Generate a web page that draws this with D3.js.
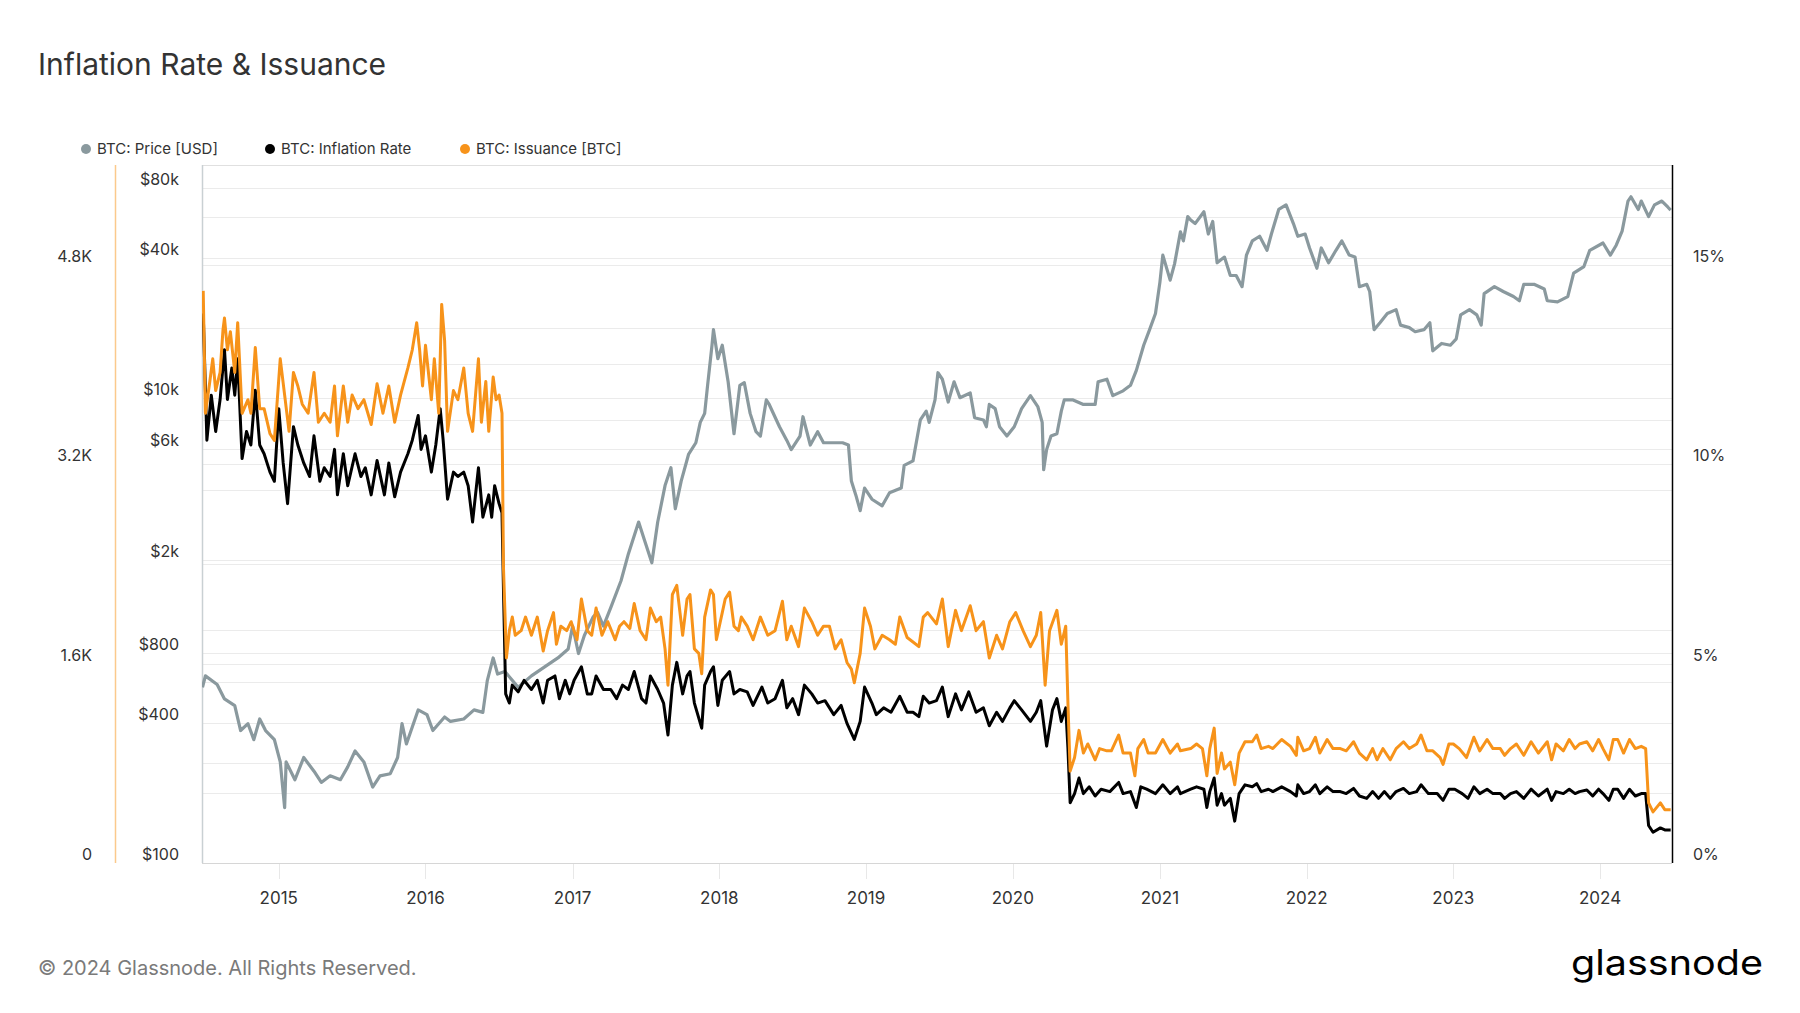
<!DOCTYPE html>
<html>
<head>
<meta charset="utf-8">
<script src="https://cdn.jsdelivr.net/npm/d3@7"></script>
<style>
  html, body { margin: 0; padding: 0; background: #fff; }
  svg { display: block; font-family: Inter, "Noto Sans", sans-serif; }
</style>
</head>
<body>
<div id="chart"></div>
<script>
// values: [decimal year, value]
const priceData = [
  [2014.48, 569], [2014.50, 637], [2014.58, 585], [2014.63, 507], [2014.70, 475], [2014.74, 371],
  [2014.79, 397], [2014.83, 339], [2014.87, 416], [2014.91, 371], [2014.97, 339], [2015.01, 272],
  [2015.04, 173], [2015.05, 272], [2015.11, 228], [2015.17, 284], [2015.24, 248], [2015.29, 222],
  [2015.35, 237], [2015.42, 228], [2015.47, 259], [2015.52, 303], [2015.58, 272], [2015.64, 212],
  [2015.69, 237], [2015.76, 242], [2015.81, 284], [2015.84, 397], [2015.87, 325], [2015.95, 455],
  [2016.01, 434], [2016.05, 371], [2016.13, 424], [2016.17, 406], [2016.26, 416], [2016.33, 455],
  [2016.39, 444], [2016.42, 608], [2016.46, 761], [2016.49, 649], [2016.54, 665], [2016.63, 569],
  [2016.72, 637], [2016.81, 697], [2016.90, 761], [2016.97, 831], [2017.00, 1043], [2017.04, 795],
  [2017.08, 950], [2017.14, 1143], [2017.17, 1194], [2017.21, 1043], [2017.26, 1253], [2017.33, 1634],
  [2017.38, 2130], [2017.45, 2920], [2017.49, 2440], [2017.54, 1950], [2017.58, 2920], [2017.63, 4190],
  [2017.67, 5000], [2017.70, 3330], [2017.74, 4380], [2017.79, 5700], [2017.84, 6400], [2017.87, 7830],
  [2017.90, 8560], [2017.92, 11300], [2017.95, 16800], [2017.96, 19600], [2017.99, 14700], [2018.02, 16800],
  [2018.06, 11700], [2018.10, 7000], [2018.14, 11300], [2018.17, 11600], [2018.21, 8560], [2018.25, 7140],
  [2018.28, 6840], [2018.32, 9780], [2018.34, 9350], [2018.41, 7500], [2018.46, 6550], [2018.49, 5980],
  [2018.55, 6840], [2018.57, 8280], [2018.62, 6260], [2018.67, 7140], [2018.71, 6400], [2018.84, 6400],
  [2018.88, 6260], [2018.90, 4380], [2018.93, 3820], [2018.96, 3270], [2018.99, 4090], [2019.04, 3660],
  [2019.11, 3430], [2019.16, 3900], [2019.24, 4090], [2019.26, 5120], [2019.32, 5350], [2019.37, 8020],
  [2019.41, 8750], [2019.43, 7830], [2019.47, 9780], [2019.49, 12800], [2019.52, 12000], [2019.56, 9580],
  [2019.60, 11700], [2019.64, 10000], [2019.71, 10470], [2019.74, 8200], [2019.80, 8020], [2019.82, 7500],
  [2019.84, 9350], [2019.88, 8970], [2019.91, 7500], [2019.96, 6840], [2020.01, 7500], [2020.06, 8970],
  [2020.12, 10200], [2020.17, 9160], [2020.20, 7830], [2020.21, 4900], [2020.23, 5980], [2020.26, 6840],
  [2020.30, 7000], [2020.33, 8750], [2020.35, 9780], [2020.41, 9780], [2020.48, 9350], [2020.56, 9350],
  [2020.58, 11700], [2020.64, 12000], [2020.68, 10200], [2020.75, 10700], [2020.80, 11300], [2020.84, 13100],
  [2020.89, 16800], [2020.93, 19600], [2020.97, 23000], [2021.00, 31300], [2021.02, 41000], [2021.07, 32000],
  [2021.10, 37600], [2021.14, 51600], [2021.16, 47200], [2021.19, 60000], [2021.21, 58000], [2021.24, 56000],
  [2021.30, 63000], [2021.33, 50500], [2021.36, 57200], [2021.39, 38000], [2021.44, 40200], [2021.48, 33500],
  [2021.52, 33500], [2021.56, 30000], [2021.59, 41000], [2021.63, 47200], [2021.68, 49400], [2021.73, 43000],
  [2021.76, 50500], [2021.81, 64400], [2021.86, 67400], [2021.91, 56000], [2021.94, 49400], [2021.99, 50500],
  [2022.02, 44000], [2022.07, 36000], [2022.10, 44000], [2022.15, 38000], [2022.20, 43000], [2022.24, 47200],
  [2022.29, 41000], [2022.33, 40200], [2022.36, 30000], [2022.41, 30700], [2022.43, 28600], [2022.46, 19600],
  [2022.50, 21000], [2022.55, 23000], [2022.61, 23900], [2022.64, 20500], [2022.70, 20000], [2022.74, 19200],
  [2022.80, 19600], [2022.84, 21000], [2022.86, 15900], [2022.92, 17100], [2022.98, 16800], [2023.02, 17900],
  [2023.05, 22700], [2023.11, 23900], [2023.16, 22700], [2023.19, 20500], [2023.21, 28000], [2023.28, 30000],
  [2023.34, 28600], [2023.41, 27200], [2023.45, 26100], [2023.48, 30700], [2023.55, 30700], [2023.62, 29300],
  [2023.64, 26100], [2023.71, 25800], [2023.78, 27200], [2023.82, 34300], [2023.89, 36600], [2023.93, 43000],
  [2024.02, 46200], [2024.07, 41000], [2024.11, 45200], [2024.15, 52000], [2024.19, 70000], [2024.21, 73000],
  [2024.26, 64400], [2024.28, 70000], [2024.33, 60000], [2024.37, 67400], [2024.42, 70000], [2024.46, 66000],
  [2024.48, 64000]
];

const inflationData = [
  [2014.485, 13.78], [2014.51, 10.6], [2014.54, 11.73], [2014.57, 10.82], [2014.60, 11.62], [2014.63, 12.87],
  [2014.65, 11.62], [2014.68, 12.41], [2014.70, 11.73], [2014.72, 12.64], [2014.75, 10.14], [2014.78, 10.82],
  [2014.81, 10.48], [2014.84, 11.85], [2014.87, 10.48], [2014.90, 10.26], [2014.94, 9.8], [2014.97, 9.57],
  [2015.00, 11.39], [2015.03, 10.03], [2015.06, 9.01], [2015.10, 10.94], [2015.13, 10.48], [2015.17, 10.03],
  [2015.21, 9.69], [2015.24, 10.71], [2015.28, 9.57], [2015.31, 9.91], [2015.35, 9.69], [2015.38, 10.37],
  [2015.40, 9.23], [2015.44, 10.26], [2015.47, 9.46], [2015.52, 10.26], [2015.56, 9.69], [2015.59, 9.91],
  [2015.63, 9.23], [2015.67, 10.09], [2015.72, 9.23], [2015.75, 10.03], [2015.79, 9.18], [2015.83, 9.8],
  [2015.88, 10.26], [2015.91, 10.6], [2015.95, 11.22], [2015.97, 10.37], [2016.00, 10.71], [2016.04, 9.8],
  [2016.07, 10.48], [2016.10, 11.39], [2016.12, 10.6], [2016.15, 9.12], [2016.19, 9.8], [2016.22, 9.69],
  [2016.26, 9.8], [2016.29, 9.46], [2016.32, 8.55], [2016.36, 9.91], [2016.39, 8.67], [2016.43, 9.23],
  [2016.45, 8.67], [2016.47, 9.46], [2016.50, 9.01], [2016.52, 8.78], [2016.53, 6.85], [2016.545, 4.24],
  [2016.57, 4.01], [2016.59, 4.46], [2016.63, 4.29], [2016.67, 4.58], [2016.72, 4.35], [2016.76, 4.58],
  [2016.80, 4.01], [2016.83, 4.58], [2016.88, 4.69], [2016.91, 4.12], [2016.95, 4.58], [2016.98, 4.24],
  [2017.01, 4.58], [2017.06, 4.92], [2017.10, 4.24], [2017.13, 4.24], [2017.16, 4.69], [2017.21, 4.35],
  [2017.26, 4.35], [2017.30, 4.12], [2017.34, 4.46], [2017.38, 4.35], [2017.42, 4.8], [2017.47, 4.12],
  [2017.50, 4.01], [2017.53, 4.69], [2017.58, 4.35], [2017.62, 4.01], [2017.65, 3.21], [2017.68, 4.46],
  [2017.71, 5.03], [2017.75, 4.24], [2017.78, 4.69], [2017.80, 4.8], [2017.83, 4.01], [2017.88, 3.38],
  [2017.90, 4.46], [2017.94, 4.8], [2017.96, 4.92], [2017.99, 3.95], [2018.02, 4.58], [2018.07, 4.8],
  [2018.10, 4.24], [2018.14, 4.35], [2018.19, 4.29], [2018.23, 3.95], [2018.29, 4.41], [2018.33, 4.01],
  [2018.38, 4.12], [2018.43, 4.58], [2018.46, 3.89], [2018.50, 4.12], [2018.54, 3.72], [2018.58, 4.46],
  [2018.63, 4.24], [2018.67, 4.01], [2018.72, 4.07], [2018.78, 3.72], [2018.83, 3.95], [2018.87, 3.5],
  [2018.92, 3.1], [2018.96, 3.55], [2018.99, 4.41], [2019.04, 4.01], [2019.07, 3.72], [2019.12, 3.89],
  [2019.17, 3.78], [2019.23, 4.18], [2019.28, 3.78], [2019.32, 3.78], [2019.36, 3.67], [2019.39, 4.18],
  [2019.43, 4.01], [2019.48, 4.07], [2019.52, 4.41], [2019.56, 3.67], [2019.61, 4.24], [2019.65, 3.84],
  [2019.70, 4.29], [2019.75, 3.78], [2019.80, 3.89], [2019.84, 3.44], [2019.89, 3.78], [2019.93, 3.55],
  [2019.98, 3.89], [2020.01, 4.07], [2020.06, 3.84], [2020.12, 3.55], [2020.16, 3.78], [2020.19, 4.07],
  [2020.23, 2.93], [2020.27, 3.84], [2020.30, 4.12], [2020.33, 3.55], [2020.36, 3.89], [2020.375, 2.87],
  [2020.39, 1.51], [2020.42, 1.74], [2020.45, 2.13], [2020.48, 1.74], [2020.52, 1.91], [2020.56, 1.68],
  [2020.60, 1.85], [2020.66, 1.79], [2020.72, 2.02], [2020.75, 1.74], [2020.80, 1.79], [2020.84, 1.39],
  [2020.87, 1.91], [2020.91, 1.85], [2020.97, 1.74], [2021.02, 1.96], [2021.07, 1.74], [2021.12, 1.91],
  [2021.14, 1.74], [2021.21, 1.85], [2021.25, 1.91], [2021.30, 1.85], [2021.32, 1.39], [2021.34, 1.79],
  [2021.37, 2.13], [2021.39, 1.45], [2021.42, 1.74], [2021.44, 1.45], [2021.48, 1.62], [2021.51, 1.05],
  [2021.54, 1.74], [2021.58, 1.96], [2021.63, 1.91], [2021.66, 1.99], [2021.69, 1.79], [2021.74, 1.85],
  [2021.77, 1.79], [2021.83, 1.91], [2021.89, 1.79], [2021.93, 1.68], [2021.94, 1.96], [2021.98, 1.74],
  [2022.02, 1.79], [2022.06, 1.96], [2022.09, 1.74], [2022.14, 1.91], [2022.18, 1.79], [2022.23, 1.79],
  [2022.27, 1.74], [2022.32, 1.87], [2022.36, 1.68], [2022.41, 1.62], [2022.45, 1.79], [2022.49, 1.62],
  [2022.53, 1.79], [2022.57, 1.62], [2022.61, 1.79], [2022.66, 1.87], [2022.70, 1.74], [2022.75, 1.79],
  [2022.78, 1.96], [2022.83, 1.74], [2022.89, 1.74], [2022.93, 1.57], [2022.97, 1.85], [2023.01, 1.85],
  [2023.06, 1.74], [2023.10, 1.62], [2023.14, 1.91], [2023.18, 1.74], [2023.23, 1.85], [2023.27, 1.74],
  [2023.32, 1.74], [2023.35, 1.62], [2023.39, 1.74], [2023.43, 1.79], [2023.48, 1.62], [2023.53, 1.85],
  [2023.58, 1.68], [2023.64, 1.85], [2023.67, 1.57], [2023.70, 1.79], [2023.75, 1.74], [2023.79, 1.85],
  [2023.83, 1.74], [2023.86, 1.79], [2023.91, 1.83], [2023.95, 1.68], [2023.99, 1.85], [2024.02, 1.74],
  [2024.06, 1.57], [2024.09, 1.85], [2024.12, 1.85], [2024.16, 1.62], [2024.20, 1.85], [2024.24, 1.68],
  [2024.28, 1.74], [2024.31, 1.74], [2024.33, 0.94], [2024.36, 0.77], [2024.41, 0.88], [2024.44, 0.83],
  [2024.48, 0.83]
];

const issuanceData = [
  [2014.485, 4590], [2014.50, 3608], [2014.53, 3863], [2014.55, 4045], [2014.57, 3790], [2014.60, 3936],
  [2014.62, 4281], [2014.63, 4372], [2014.65, 4117], [2014.67, 4263], [2014.70, 3936], [2014.72, 4335],
  [2014.75, 3608], [2014.79, 3717], [2014.81, 3608], [2014.84, 4135], [2014.87, 3645], [2014.90, 3645],
  [2014.94, 3445], [2014.97, 3390], [2015.01, 4045], [2015.04, 3754], [2015.07, 3463], [2015.10, 3936],
  [2015.13, 3827], [2015.16, 3681], [2015.20, 3608], [2015.24, 3936], [2015.27, 3536], [2015.31, 3608],
  [2015.35, 3536], [2015.38, 3827], [2015.40, 3427], [2015.44, 3827], [2015.47, 3536], [2015.50, 3754],
  [2015.54, 3645], [2015.58, 3717], [2015.63, 3518], [2015.67, 3845], [2015.71, 3608], [2015.75, 3827],
  [2015.79, 3536], [2015.83, 3754], [2015.88, 3972], [2015.91, 4117], [2015.94, 4335], [2015.96, 4117],
  [2015.98, 3827], [2016.00, 4154], [2016.04, 3717], [2016.06, 4045], [2016.09, 3608], [2016.11, 4481],
  [2016.13, 4190], [2016.15, 3463], [2016.19, 3790], [2016.22, 3717], [2016.26, 3972], [2016.29, 3608],
  [2016.32, 3463], [2016.36, 4045], [2016.38, 3536], [2016.41, 3863], [2016.43, 3463], [2016.46, 3899],
  [2016.48, 3717], [2016.50, 3754], [2016.52, 3608], [2016.53, 2372], [2016.55, 1645], [2016.57, 1864],
  [2016.59, 1973], [2016.61, 1827], [2016.65, 1864], [2016.68, 1973], [2016.72, 1827], [2016.76, 1973],
  [2016.80, 1700], [2016.83, 1864], [2016.87, 2009], [2016.89, 1755], [2016.92, 1900], [2016.96, 1864],
  [2016.99, 1936], [2017.03, 1791], [2017.06, 2118], [2017.10, 1864], [2017.13, 1827], [2017.16, 2045],
  [2017.20, 1827], [2017.24, 1936], [2017.29, 1791], [2017.32, 1900], [2017.35, 1936], [2017.39, 1882],
  [2017.42, 2082], [2017.46, 1864], [2017.50, 1791], [2017.53, 2045], [2017.57, 1936], [2017.60, 1973],
  [2017.63, 1718], [2017.65, 1427], [2017.68, 2154], [2017.71, 2227], [2017.75, 1827], [2017.78, 2118],
  [2017.80, 2154], [2017.83, 1718], [2017.86, 1682], [2017.88, 1518], [2017.90, 1973], [2017.94, 2191],
  [2017.96, 2154], [2017.98, 1791], [2018.02, 2009], [2018.04, 2118], [2018.07, 2173], [2018.10, 1900],
  [2018.13, 1864], [2018.15, 1973], [2018.19, 1900], [2018.23, 1791], [2018.28, 1973], [2018.33, 1827],
  [2018.38, 1864], [2018.43, 2100], [2018.46, 1791], [2018.49, 1900], [2018.54, 1736], [2018.58, 2045],
  [2018.63, 1936], [2018.67, 1827], [2018.71, 1900], [2018.75, 1900], [2018.79, 1718], [2018.83, 1791],
  [2018.87, 1609], [2018.90, 1555], [2018.92, 1446], [2018.96, 1682], [2018.99, 2045], [2019.03, 1900],
  [2019.06, 1718], [2019.11, 1827], [2019.16, 1791], [2019.20, 1755], [2019.23, 1973], [2019.28, 1809],
  [2019.32, 1773], [2019.36, 1736], [2019.39, 1973], [2019.42, 2009], [2019.48, 1918], [2019.52, 2118],
  [2019.56, 1736], [2019.61, 2027], [2019.65, 1864], [2019.71, 2064], [2019.75, 1864], [2019.80, 1936],
  [2019.84, 1645], [2019.89, 1827], [2019.93, 1718], [2019.98, 1936], [2020.02, 2009], [2020.07, 1864],
  [2020.12, 1736], [2020.16, 1827], [2020.19, 2009], [2020.22, 1427], [2020.25, 1864], [2020.30, 2027],
  [2020.33, 1755], [2020.36, 1900], [2020.375, 1282], [2020.39, 737], [2020.42, 846], [2020.45, 1064],
  [2020.48, 882], [2020.51, 955], [2020.56, 828], [2020.59, 918], [2020.64, 900], [2020.67, 900],
  [2020.72, 1027], [2020.75, 882], [2020.80, 882], [2020.83, 700], [2020.85, 918], [2020.89, 991],
  [2020.92, 882], [2020.97, 882], [2021.02, 991], [2021.07, 882], [2021.12, 955], [2021.14, 900],
  [2021.21, 918], [2021.25, 955], [2021.29, 918], [2021.32, 700], [2021.34, 918], [2021.37, 1082],
  [2021.39, 718], [2021.42, 882], [2021.44, 755], [2021.48, 809], [2021.51, 628], [2021.54, 882],
  [2021.58, 973], [2021.63, 973], [2021.66, 1027], [2021.69, 918], [2021.74, 936], [2021.77, 918],
  [2021.83, 991], [2021.89, 936], [2021.93, 864], [2021.94, 1009], [2021.98, 900], [2022.02, 918],
  [2022.06, 1009], [2022.09, 882], [2022.14, 991], [2022.18, 918], [2022.23, 918], [2022.27, 900],
  [2022.32, 973], [2022.36, 882], [2022.41, 828], [2022.45, 918], [2022.48, 828], [2022.52, 918],
  [2022.57, 828], [2022.61, 918], [2022.66, 973], [2022.70, 918], [2022.75, 955], [2022.78, 1027],
  [2022.82, 900], [2022.86, 900], [2022.91, 846], [2022.93, 791], [2022.97, 955], [2023.00, 955],
  [2023.04, 918], [2023.09, 846], [2023.14, 1009], [2023.18, 900], [2023.23, 991], [2023.27, 918],
  [2023.32, 918], [2023.35, 864], [2023.39, 918], [2023.43, 955], [2023.48, 864], [2023.53, 973],
  [2023.58, 882], [2023.64, 973], [2023.67, 828], [2023.70, 955], [2023.75, 900], [2023.79, 991],
  [2023.83, 918], [2023.86, 955], [2023.91, 973], [2023.95, 900], [2023.99, 991], [2024.02, 918],
  [2024.06, 828], [2024.09, 991], [2024.12, 991], [2024.16, 882], [2024.20, 991], [2024.24, 918],
  [2024.28, 936], [2024.31, 918], [2024.33, 482], [2024.36, 410], [2024.41, 482], [2024.44, 428],
  [2024.48, 428]
];

const priceTicks = [100, 400, 800, 2000, 6000, 10000, 40000, 80000];
const priceTickLabels = ["$100", "$400", "$800", "$2k", "$6k", "$10k", "$40k", "$80k"];
const priceGrid = [200, 400, 600, 800, 1000, 2000, 4000, 6000, 8000, 10000, 20000, 40000, 60000, 80000];
const inflationTicks = [0, 5, 10, 15];
const inflationGrid = [2.5, 5, 7.5, 10, 12.5, 15];
const issuanceTicks = [0, 1600, 3200, 4800];
const issuanceTickLabels = ["0", "1.6K", "3.2K", "4.8K"];

const legendNames = ["BTC: Price [USD]", "BTC: Inflation Rate", "BTC: Issuance [BTC]"];
const seriesColors = ["#8a999e", "#000000", "#f7931a"];

const width = 1800, height = 1013;
const margin = { top: 165, right: 128, bottom: 150, left: 202 };
const plotW = width - margin.left - margin.right;
const plotH = height - margin.top - margin.bottom;

function yearToDate(y) {
    const yr = Math.floor(y);
    const start = Date.UTC(yr, 0, 1), end = Date.UTC(yr + 1, 0, 1);
    return new Date(start + (y - yr) * (end - start));
}

const svg = d3.select("#chart").append("svg")
    .attr("width", width)
    .attr("height", height)
    .attr("viewBox", [0, 0, width, height]);

const x = d3.scaleUtc()
    .domain([new Date(Date.UTC(2014, 5, 24)), new Date(Date.UTC(2024, 5, 28))])
    .range([margin.left, margin.left + plotW]);
const yPrice = d3.scaleLog().domain([100, 100000]).range([margin.top + plotH, margin.top]);
const yInfl = d3.scaleLinear().domain([0, 17.5]).range([margin.top + plotH, margin.top]);
const yIss = d3.scaleLinear().domain([0, 5600]).range([margin.top + plotH, margin.top]);

// Title
svg.append("text")
    .attr("x", 38).attr("y", 75)
    .style("font-size", "30px")
    .style("fill", "#333")
    .text("Inflation Rate & Issuance");

// Legend
const legendX = [86, 270, 465];
const legend = svg.append("g");
legendNames.forEach((name, i) => {
    legend.append("circle")
        .attr("cx", legendX[i]).attr("cy", 149).attr("r", 5)
        .attr("fill", seriesColors[i]);
    legend.append("text")
        .attr("x", legendX[i] + 11).attr("y", 149)
        .attr("dy", "0.35em")
        .style("font-size", "15px")
        .style("fill", "#333")
        .text(name);
});

// Gridlines
const grid = svg.append("g").attr("stroke", "#ebebeb").attr("stroke-width", 1);
grid.selectAll(".gp").data(priceGrid).join("line")
    .attr("x1", margin.left).attr("x2", margin.left + plotW)
    .attr("y1", d => Math.round(yPrice(d)) + 0.5).attr("y2", d => Math.round(yPrice(d)) + 0.5);
grid.selectAll(".gi").data(inflationGrid).join("line")
    .attr("x1", margin.left).attr("x2", margin.left + plotW)
    .attr("y1", d => Math.round(yInfl(d)) + 0.5).attr("y2", d => Math.round(yInfl(d)) + 0.5);

// Plot frame
svg.append("line")
    .attr("x1", margin.left).attr("x2", margin.left + plotW)
    .attr("y1", margin.top + 0.5).attr("y2", margin.top + 0.5)
    .attr("stroke", "#e0e0e0");
svg.append("line")
    .attr("x1", margin.left).attr("x2", margin.left + plotW)
    .attr("y1", margin.top + plotH + 0.5).attr("y2", margin.top + plotH + 0.5)
    .attr("stroke", "#d6d6d6");

// X axis ticks and labels
const years = x.ticks(d3.utcYear.every(1));
svg.append("g").selectAll("line").data(years).join("line")
    .attr("x1", d => Math.round(x(d)) + 0.5).attr("x2", d => Math.round(x(d)) + 0.5)
    .attr("y1", margin.top + plotH + 1).attr("y2", margin.top + plotH + 16)
    .attr("stroke", "#e8e8e8");
svg.append("g").selectAll("text").data(years).join("text")
    .attr("x", d => x(d)).attr("y", 898)
    .attr("dy", "0.35em")
    .attr("text-anchor", "middle")
    .style("font-size", "17px")
    .style("fill", "#333")
    .text(d3.utcFormat("%Y"));

// Left axes
svg.append("line")
    .attr("x1", 115.5).attr("x2", 115.5)
    .attr("y1", margin.top).attr("y2", margin.top + plotH)
    .attr("stroke", "#fbc98c").attr("stroke-width", 1.5);
svg.append("line")
    .attr("x1", margin.left + 0.5).attr("x2", margin.left + 0.5)
    .attr("y1", margin.top).attr("y2", margin.top + plotH)
    .attr("stroke", "#c9d0d3").attr("stroke-width", 1.5);
svg.append("g").selectAll("text").data(issuanceTicks).join("text")
    .attr("x", 92).attr("y", d => yIss(d) - 8.5)
    .attr("dy", "0.35em")
    .attr("text-anchor", "end")
    .style("font-size", "16px")
    .style("fill", "#333")
    .text((d, i) => issuanceTickLabels[i]);
svg.append("g").selectAll("text").data(priceTicks).join("text")
    .attr("x", 179).attr("y", d => yPrice(d) - 8.5)
    .attr("dy", "0.35em")
    .attr("text-anchor", "end")
    .style("font-size", "16px")
    .style("fill", "#333")
    .text((d, i) => priceTickLabels[i]);

// Right axis
svg.append("g").selectAll("text").data(inflationTicks).join("text")
    .attr("x", 1693).attr("y", d => yInfl(d) - 8.5)
    .attr("dy", "0.35em")
    .style("font-size", "16px")
    .style("fill", "#333")
    .text(d => d + "%");

// Series
svg.append("clipPath").attr("id", "plot-clip")
    .append("rect")
    .attr("x", margin.left).attr("y", margin.top)
    .attr("width", plotW).attr("height", plotH);
const plot = svg.append("g").attr("clip-path", "url(#plot-clip)");

const priceLine = d3.line().x(d => x(yearToDate(d[0]))).y(d => yPrice(d[1]));
const inflLine = d3.line().x(d => x(yearToDate(d[0]))).y(d => yInfl(d[1]));
const issLine = d3.line().x(d => x(yearToDate(d[0]))).y(d => yIss(d[1]));

plot.append("path").datum(priceData)
    .attr("d", priceLine)
    .attr("fill", "none").attr("stroke", seriesColors[0])
    .attr("stroke-width", 3.2).attr("stroke-linejoin", "round");
plot.append("path").datum(inflationData)
    .attr("d", inflLine)
    .attr("fill", "none").attr("stroke", seriesColors[1])
    .attr("stroke-width", 3).attr("stroke-linejoin", "round");
plot.append("path").datum(issuanceData)
    .attr("d", issLine)
    .attr("fill", "none").attr("stroke", seriesColors[2])
    .attr("stroke-width", 3).attr("stroke-linejoin", "round");

svg.append("line")
    .attr("x1", margin.left + plotW + 0.5).attr("x2", margin.left + plotW + 0.5)
    .attr("y1", margin.top).attr("y2", margin.top + plotH)
    .attr("stroke", "#000").attr("stroke-width", 1.5);

// Footer
svg.append("text")
    .attr("x", 38).attr("y", 975)
    .style("font-size", "20px")
    .style("fill", "#7a7a7a")
    .text("© 2024 Glassnode. All Rights Reserved.");
svg.append("text")
    .attr("x", 1571).attr("y", 975)
    .attr("textLength", 192).attr("lengthAdjust", "spacingAndGlyphs")
    .style("font-size", "35px")
    .style("font-weight", "400")
    .style("fill", "#000")
    .text("glassnode");
</script>
</body>
</html>
